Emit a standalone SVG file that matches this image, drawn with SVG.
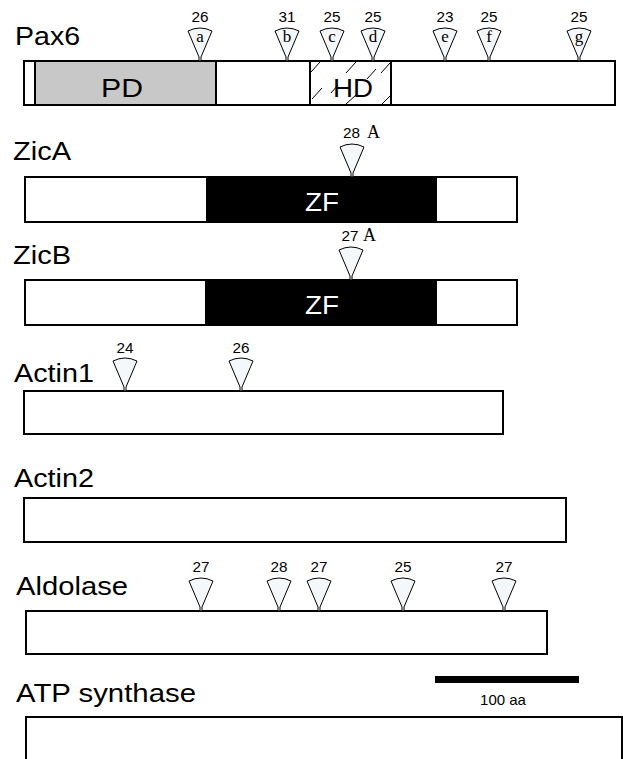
<svg xmlns="http://www.w3.org/2000/svg" width="623" height="759" viewBox="0 0 623 759">
<defs>
<style>
.lbl{font-family:"Liberation Sans",Arial,sans-serif;font-size:25px;fill:#000}
.num{font-family:"Liberation Sans",Arial,sans-serif;font-size:14px;text-anchor:middle;fill:#000}
.let{font-family:"Liberation Serif","Times New Roman",serif;font-size:17px;text-anchor:middle;fill:#000}
.sa{font-family:"Liberation Serif","Times New Roman",serif;font-size:18px;fill:#000}
.bar{fill:#fff;stroke:#000;stroke-width:2}
.dom{font-family:"Liberation Sans",Arial,sans-serif;font-size:25px;text-anchor:middle}
.hatch{stroke:#000;stroke-width:1}
</style>
<path id="wedge" d="M-12,-30 Q0,-36 12,-30 L1,-4 L1,0 L-1,0 L-1,-4 Z" fill="#f5f8fb" stroke="#000" stroke-width="1"/>
</defs>
<rect width="623" height="759" fill="#fff"/>

<g id="pax6">
<text class="lbl" x="15" y="45" textLength="65" lengthAdjust="spacingAndGlyphs">Pax6</text>
<rect class="bar" x="24" y="61" width="591" height="44"/>
<rect x="35" y="61" width="181" height="44" fill="#c8c8c8" stroke="#000" stroke-width="2"/>
<rect x="310" y="61" width="81" height="44" fill="#fff" stroke="#000" stroke-width="2"/>
<g class="hatch">
<line x1="311" y1="72" x2="320" y2="62"/>
<line x1="312" y1="99" x2="322" y2="88"/>
<line x1="331" y1="93" x2="338" y2="85"/>
<line x1="346" y1="73" x2="356" y2="62"/>
<line x1="346" y1="104" x2="356" y2="95"/>
<line x1="367" y1="79" x2="376" y2="69"/>
<line x1="381" y1="73" x2="390" y2="63"/>
<line x1="382" y1="104" x2="390" y2="96"/>
</g>
<text class="dom" x="122" y="97" textLength="42" lengthAdjust="spacingAndGlyphs">PD</text>
<text class="dom" x="353" y="97" textLength="40" lengthAdjust="spacingAndGlyphs">HD</text>
<use href="#wedge" x="200" y="61"/><text class="num" x="200" y="22" textLength="17" lengthAdjust="spacingAndGlyphs">26</text><text class="let" x="200" y="42">a</text>
<use href="#wedge" x="287" y="61"/><text class="num" x="287" y="22" textLength="17" lengthAdjust="spacingAndGlyphs">31</text><text class="let" x="287" y="42">b</text>
<use href="#wedge" x="332" y="61"/><text class="num" x="332" y="22" textLength="17" lengthAdjust="spacingAndGlyphs">25</text><text class="let" x="332" y="42">c</text>
<use href="#wedge" x="373" y="61"/><text class="num" x="373" y="22" textLength="17" lengthAdjust="spacingAndGlyphs">25</text><text class="let" x="373" y="42">d</text>
<use href="#wedge" x="445" y="61"/><text class="num" x="445" y="22" textLength="17" lengthAdjust="spacingAndGlyphs">23</text><text class="let" x="445" y="42">e</text>
<use href="#wedge" x="489" y="61"/><text class="num" x="489" y="22" textLength="17" lengthAdjust="spacingAndGlyphs">25</text><text class="let" x="489" y="42">f</text>
<use href="#wedge" x="579" y="61"/><text class="num" x="579" y="22" textLength="17" lengthAdjust="spacingAndGlyphs">25</text><text class="let" x="579" y="42">g</text>
</g>

<g id="zicA">
<text class="lbl" x="13" y="160" textLength="58" lengthAdjust="spacingAndGlyphs">ZicA</text>
<rect class="bar" x="25" y="177" width="492" height="45"/>
<rect x="206" y="177" width="231" height="45" fill="#000"/>
<text class="dom" x="322" y="211" fill="#fff" textLength="34" lengthAdjust="spacingAndGlyphs">ZF</text>
<use href="#wedge" x="352" y="177"/>
<text class="num" x="351.5" y="138" textLength="17" lengthAdjust="spacingAndGlyphs">28</text>
<text class="sa" x="367" y="138">A</text>
</g>

<g id="zicB">
<text class="lbl" x="13" y="264" textLength="58" lengthAdjust="spacingAndGlyphs">ZicB</text>
<rect class="bar" x="25" y="280" width="492" height="45"/>
<rect x="205" y="280" width="232" height="45" fill="#000"/>
<text class="dom" x="322" y="314" fill="#fff" textLength="34" lengthAdjust="spacingAndGlyphs">ZF</text>
<use href="#wedge" x="351" y="280"/>
<text class="num" x="350" y="241" textLength="17" lengthAdjust="spacingAndGlyphs">27</text>
<text class="sa" x="363" y="241">A</text>
</g>

<g id="actin1">
<text class="lbl" x="14" y="382" textLength="80" lengthAdjust="spacingAndGlyphs">Actin1</text>
<rect class="bar" x="24" y="391" width="479" height="43"/>
<use href="#wedge" x="125" y="391"/><text class="num" x="125" y="353" textLength="17" lengthAdjust="spacingAndGlyphs">24</text>
<use href="#wedge" x="241" y="391"/><text class="num" x="241" y="353" textLength="17" lengthAdjust="spacingAndGlyphs">26</text>
</g>

<g id="actin2">
<text class="lbl" x="14" y="487" textLength="80" lengthAdjust="spacingAndGlyphs">Actin2</text>
<rect class="bar" x="24" y="498" width="542" height="44"/>
</g>

<g id="aldolase">
<text class="lbl" x="16" y="595" textLength="112" lengthAdjust="spacingAndGlyphs">Aldolase</text>
<rect class="bar" x="26" y="611" width="521" height="43"/>
<use href="#wedge" x="201" y="611"/><text class="num" x="201" y="572" textLength="17" lengthAdjust="spacingAndGlyphs">27</text>
<use href="#wedge" x="279" y="611"/><text class="num" x="279" y="572" textLength="17" lengthAdjust="spacingAndGlyphs">28</text>
<use href="#wedge" x="319" y="611"/><text class="num" x="319" y="572" textLength="17" lengthAdjust="spacingAndGlyphs">27</text>
<use href="#wedge" x="403" y="611"/><text class="num" x="403" y="572" textLength="17" lengthAdjust="spacingAndGlyphs">25</text>
<use href="#wedge" x="504" y="611"/><text class="num" x="504" y="572" textLength="17" lengthAdjust="spacingAndGlyphs">27</text>
</g>

<g id="scalebar">
<rect x="435" y="676" width="144" height="7" fill="#000"/>
<text x="503" y="705" font-family="Liberation Sans, Arial, sans-serif" font-size="15" text-anchor="middle">100 aa</text>
</g>

<g id="atp-synthase">
<text class="lbl" x="16" y="702" textLength="180" lengthAdjust="spacingAndGlyphs">ATP synthase</text>
<rect class="bar" x="26" y="717" width="596" height="60"/>
</g>

<g id="connectors"/>
</svg>
